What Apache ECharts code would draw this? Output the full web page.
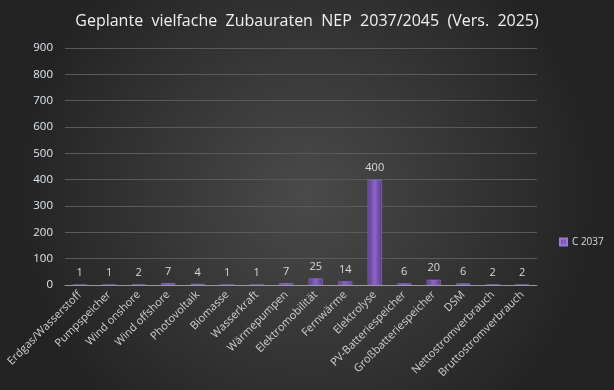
<!DOCTYPE html>
<html><head><meta charset="utf-8">
<script src="https://cdn.jsdelivr.net/npm/echarts@6/dist/echarts.min.js"></script>
<style>html,body{margin:0;padding:0;}#c{width:614px;height:390px;}</style>
</head><body><div id="c"></div>
<script>
const titleText = 'Geplante  vielfache  Zubauraten  NEP  2037/2045  (Vers.  2025)';
const categories = ['Erdgas/Wasserstoff','Pumpspeicher','Wind onshore','Wind offshore','Photovoltaik','Biomasse','Wasserkraft','Wärmepumpen','Elektromobilität','Fernwärme','Elektrolyse','PV-Batteriespeicher','Großbatteriespeicher','DSM','Nettostromverbrauch','Bruttostromverbrauch'];
const seriesName = 'C 2037';
const values = [1,1,2,7,4,1,1,7,25,14,400,6,20,6,2,2];
const yMin = 0, yMax = 900, yStep = 100;

const chart = echarts.init(document.getElementById('c'));
chart.setOption({
  animation: false,
  backgroundColor: {type:'radial', x:0.5, y:0.5, r:0.75, colorStops:[{offset:0,color:'#4a4a4a'},{offset:1,color:'#232323'}]},
  title: {text: titleText, left: 'center', top: 8, textStyle:{color:'#f0f0f0', fontSize:16, fontWeight:'normal', fontFamily:'Open Sans'}},
  legend: {orient:'vertical', left: 554, top: 232, itemWidth:7, itemHeight:7, itemGap:4,
    textStyle:{color:'#d9d9d9', fontSize:10, fontFamily:'Open Sans'},
    data:[{name:seriesName, icon:'rect'}]},
  grid: {left: 65, right: 77, top: 48, bottom: 105, containLabel:false},
  xAxis: {type:'category', data: categories,
    axisLine:{lineStyle:{color:'#9a9a9a', width:1}}, axisTick:{show:false},
    axisLabel:{rotate:45, interval:0, color:'#d0d0d0', fontSize:11, fontFamily:'Open Sans', margin:8}},
  yAxis: {type:'value', min:yMin, max:yMax, interval:yStep,
    axisLine:{show:false}, axisTick:{show:false},
    splitLine:{lineStyle:{color:'#5a5a5a', width:1}},
    axisLabel:{color:'#dfe6ee', fontSize:11.5, fontFamily:'Open Sans', margin:12}},
  series: [{type:'bar', name: seriesName, data: values, barWidth:'48%',
    itemStyle:{color:{type:'linear', x:0, y:0, x2:1, y2:0, colorStops:[
      {offset:0,color:'#5a3a8a'},{offset:0.5,color:'#8d66c8'},{offset:1,color:'#5a3a8a'}]},
      borderColor:'#9b7ad6', borderWidth:0.5},
    label:{show:true, position:'top', distance:6, color:'#d9d9d9', fontSize:11, fontFamily:'Open Sans'}}]
});
</script></body></html>
